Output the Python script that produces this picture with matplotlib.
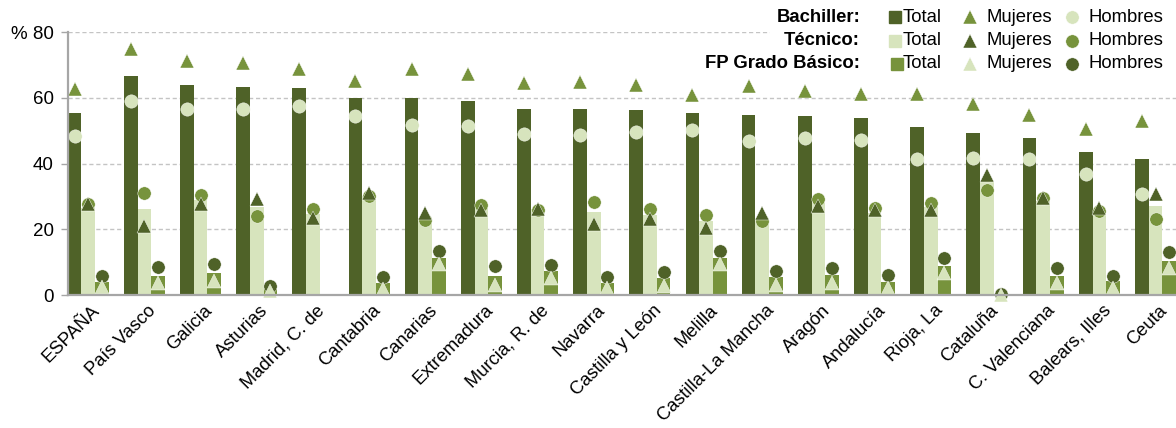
import numpy as np
import matplotlib
matplotlib.use("Agg")
import matplotlib.pyplot as plt
import matplotlib.transforms as mtransforms

plt.rcParams['font.family'] = ['Liberation Sans', 'DejaVu Sans']

categories = ['ESPAÑA', 'País Vasco', 'Galicia', 'Asturias', 'Madrid, C. de', 'Cantabria',
              'Canarias', 'Extremadura', 'Murcia, R. de', 'Navarra', 'Castilla y León',
              'Melilla', 'Castilla-La Mancha', 'Aragón', 'Andalucía', 'Rioja, La',
              'Cataluña', 'C. Valenciana', 'Balears, Illes', 'Ceuta']

bach_total = [55.4, 66.7, 64.0, 63.4, 63.1, 60.0, 60.0, 59.1, 56.7, 56.7, 56.4, 55.5,
              54.9, 54.6, 54.0, 51.2, 49.4, 47.9, 43.6, 41.5]
bach_muj = [62.8, 75.0, 71.2, 70.7, 68.8, 65.2, 68.8, 67.2, 64.7, 65.0, 63.8, 60.8,
            63.7, 62.1, 61.2, 61.2, 58.1, 54.8, 50.5, 53.1]
bach_hom = [48.5, 59.2, 56.7, 56.6, 57.6, 54.6, 51.7, 51.4, 49.1, 48.7, 49.5, 50.3,
            47.0, 47.9, 47.3, 41.4, 41.6, 41.4, 37.0, 30.8]

tec_total = [26.6, 26.3, 29.0, 26.7, 24.8, 30.0, 23.4, 26.5, 26.3, 25.2, 24.5, 22.4,
             23.0, 28.1, 25.0, 26.8, 34.5, 28.7, 25.5, 27.0]
tec_muj = [27.6, 21.0, 27.8, 29.1, 23.6, 31.1, 25.1, 26.0, 26.2, 21.7, 23.0, 20.3,
           25.0, 27.1, 25.8, 26.0, 36.6, 29.6, 26.5, 30.9]
tec_hom = [27.8, 31.1, 30.5, 24.0, 26.2, 30.2, 22.9, 27.5, 26.0, 28.3, 26.2, 24.3,
           22.6, 29.2, 26.5, 28.0, 32.1, 29.5, 25.7, 23.2]

nan = np.nan
fp_total = [4.1, 5.9, 6.6, 1.9, nan, 3.6, 11.4, 5.9, 7.3, 3.8, 5.3, 11.4,
            5.6, 6.1, 4.1, 8.9, 0.0, 5.9, 4.3, 10.4]
fp_muj = [2.3, 3.6, 4.3, 1.3, nan, 1.7, 9.4, 3.0, 5.1, 2.0, 2.8, 9.4,
          3.1, 3.6, 2.0, 6.6, 0.0, 3.6, 2.2, 8.2]
fp_hom = [5.8, 8.4, 9.3, 2.7, nan, 5.6, 13.5, 8.9, 9.1, 5.4, 7.1, 13.5,
          7.4, 8.3, 6.1, 11.2, 0.3, 8.1, 5.9, 13.0]

y_ticks = [0, 20, 40, 60, 80]
y_ticklabels = ['0', '20', '40', '60', '% 80']

group_labels = ['Bachiller:', 'Técnico:', 'FP Grado Básico:']
entry_labels = ['Total', 'Mujeres', 'Hombres']

DARK = '#4F6228'
LIGHT = '#D7E4BD'
MED = '#77933C'

# (total colour, mujeres colour, hombres colour)
styles = [(DARK, MED, LIGHT), (LIGHT, DARK, MED), (MED, LIGHT, DARK)]
series = [(bach_total, bach_muj, bach_hom), (tec_total, tec_muj, tec_hom),
          (fp_total, fp_muj, fp_hom)]

W, H = 1176, 428
fig = plt.figure(figsize=(W / 100, H / 100), dpi=100)
x_left, x_right = 67.7, 1176
y_top, y_bot = 32.3, 295.0
ax = fig.add_axes([x_left / W, 1 - y_bot / H, (x_right - x_left) / W, (y_bot - y_top) / H])

x = np.arange(len(categories))
bw = 0.2432
MS = 9.6
for j, ((tot, muj, hom), (ct, cm, ch)) in enumerate(zip(series, styles)):
    off = (j - 1) * bw
    ax.bar(x + off, tot, width=bw, color=ct, linewidth=0, zorder=2)
for j, ((tot, muj, hom), (ct, cm, ch)) in enumerate(zip(series, styles)):
    off = (j - 1) * bw
    ax.plot(x + off, hom, ls='none', marker='o', ms=MS, mfc=ch, mec='white', mew=0.3,
            zorder=3, clip_on=False)
    ax.plot(x + off, muj, ls='none', marker='^', ms=MS, mfc=cm, mec='white', mew=0.3,
            zorder=4, clip_on=False)

ax.set_xlim(-1.5 * bw, len(categories) - 1 + 1.5 * bw)
ax.set_ylim(0, 80)
ax.set_yticks(y_ticks)
ax.set_yticklabels(y_ticklabels, fontsize=13.5)
ax.set_xticks(x)
ax.set_xticklabels(categories, rotation=45, ha='right', rotation_mode='anchor', fontsize=13.2)
ax.tick_params(axis='x', length=0, pad=5)
ax.tick_params(axis='y', length=5, width=1, color='#A6A6A6', pad=5)
shift = mtransforms.ScaledTranslation(0.03, 0, fig.dpi_scale_trans)
for lab in ax.get_xticklabels():
    lab.set_transform(lab.get_transform() + shift)

ax.yaxis.grid(True, linestyle=(0, (3, 2)), color='#C4C4C4', linewidth=1)
ax.set_axisbelow(True)
for s in ['top', 'right']:
    ax.spines[s].set_visible(False)
for s in ['left', 'bottom']:
    ax.spines[s].set_color('#A6A6A6')
    ax.spines[s].set_linewidth(1.6)
    ax.spines[s].set_zorder(5)

# legend panel
lx0, ly1 = 770, 80
lax = fig.add_axes([lx0 / W, 1 - ly1 / H, (W - lx0) / W, ly1 / H])
lax.set_xlim(lx0, W)
lax.set_ylim(ly1, 0)
lax.set_facecolor('white')
lax.set_xticks([])
lax.set_yticks([])
for s in lax.spines.values():
    s.set_visible(False)
rows_y = [17.3, 40.7, 64.0]
FS = 13.3
for r, (gl, (ct, cm, ch)) in enumerate(zip(group_labels, styles)):
    yy = rows_y[r]
    lax.text(860, yy, gl, ha='right', va='center', fontsize=FS, fontweight='bold')
    lax.plot([895 + (2 if r == 2 else 0)], [yy], marker='s', ms=9, mfc=ct, mec=ct, ls='none')
    lax.text(903, yy, entry_labels[0], ha='left', va='center', fontsize=FS)
    lax.plot([970], [yy], marker='^', ms=MS, mfc=cm, mec='white', mew=0.3, ls='none')
    lax.text(986, yy, entry_labels[1], ha='left', va='center', fontsize=FS)
    lax.plot([1072], [yy], marker='o', ms=MS, mfc=ch, mec='white', mew=0.3, ls='none')
    lax.text(1089, yy, entry_labels[2], ha='left', va='center', fontsize=FS)

fig.savefig('out.png', dpi=100)
